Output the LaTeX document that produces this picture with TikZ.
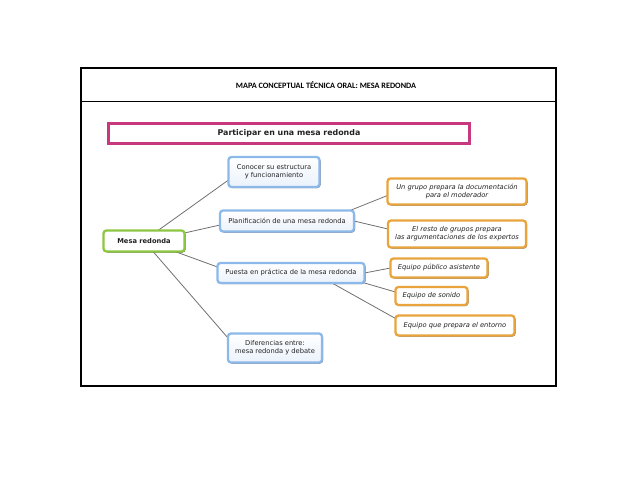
\documentclass[tikz,border=0pt]{standalone}
\usepackage{fontspec}
\setmainfont{DejaVu Sans}
\newfontfamily\headfont{Carlito}
\usetikzlibrary{shadows,backgrounds}
\definecolor{bluebd}{HTML}{8CB8EA}
\definecolor{orangebd}{HTML}{E9A43C}
\definecolor{greenbd}{HTML}{8DC641}
\definecolor{pinkbd}{HTML}{C8387E}
\definecolor{linegray}{HTML}{707070}
\definecolor{txt}{HTML}{222222}
\tikzset{
  every node/.style={inner sep=0pt, outer sep=0pt, text=txt},
  boxbase/.style={rounded corners=3pt, line width=2.3pt, fill=white, align=center,
    font=\fontsize{6.7}{8}\selectfont,
    drop shadow={shadow xshift=1pt, shadow yshift=-1pt, fill=black!75, opacity=0.85}},
  bluebox/.style={boxbase, draw=bluebd, top color=white, bottom color=bluebd!18},
  orangebox/.style={boxbase, draw=orangebd, font=\fontsize{6.7}{8}\selectfont\itshape},
  greenbox/.style={boxbase, draw=greenbd, font=\fontsize{6.7}{8}\selectfont\bfseries},
  link/.style={draw=linegray, line width=0.8pt},
}
\begin{document}
\begin{tikzpicture}[x=1pt,y=-1pt]
\useasboundingbox (0,0) rectangle (638,493);
% table frame
\draw[line width=1.3pt] (81,68) rectangle (556,386);
\draw[line width=1pt] (81,101) -- (556,101);
\node[font=\headfont\bfseries\fontsize{8.2}{10}\selectfont, text=black] (head) at (326,85) {MAPA CONCEPTUAL TÉCNICA ORAL: MESA REDONDA};
% title box
\node[draw=pinkbd, line width=2.6pt, fill=white, minimum width=361pt, minimum height=20pt,
      font=\fontsize{7.9}{9}\selectfont\bfseries,
      drop shadow={shadow xshift=0.6pt, shadow yshift=-0.6pt, fill=black!40, opacity=0.5}] (title) at (289,133.5) {Participar en una mesa redonda};
% nodes
\node[greenbox, minimum width=81pt, minimum height=21pt] (mesa) at (144,241) {Mesa redonda};
\node[bluebox, minimum width=91pt, minimum height=30pt] (conocer) at (274,172) {Conocer su estructura\\y funcionamiento};
\node[bluebox, minimum width=134pt, minimum height=21pt] (plan) at (287,221) {Planificación de una mesa redonda};
\node[bluebox, minimum width=147pt, minimum height=20pt] (puesta) at (291,273) {Puesta en práctica de la mesa redonda};
\node[bluebox, minimum width=94pt, minimum height=29pt] (dif) at (275,348) {Diferencias entre:\\mesa redonda y debate};
\node[orangebox, minimum width=139pt, minimum height=26pt] (grupo) at (457,191.5) {Un grupo prepara la documentación\\para el moderador};
\node[orangebox, minimum width=138pt, minimum height=27pt] (resto) at (457,234) {El resto de grupos prepara\\las argumentaciones de los expertos};
\node[orangebox, minimum width=97pt, minimum height=19pt] (publico) at (439,268) {Equipo público asistente};
\node[orangebox, minimum width=72pt, minimum height=18pt] (sonido) at (431.5,296) {Equipo de sonido};
\node[orangebox, minimum width=119pt, minimum height=20pt] (entorno) at (455,325.5) {Equipo que prepara el entorno};
% connectors
\begin{pgfonlayer}{background}
\draw[link] ([xshift=14pt]mesa.north) -- ([yshift=-8pt]conocer.west);
\draw[link] ([yshift=8pt]mesa.east) -- ([yshift=-4pt]plan.west);
\draw[link] ([xshift=31pt]mesa.south) -- ([yshift=6pt]puesta.west);
\draw[link] ([xshift=9pt]mesa.south) -- ([yshift=10pt]dif.west);
\draw[link] ([xshift=-4pt]plan.north east) -- ([yshift=-4pt]grupo.west);
\draw[link] (plan.east) -- ([yshift=5pt]resto.west);
\draw[link] (puesta.east) -- (publico.west);
\draw[link] (puesta.south east) -- ([yshift=4pt]sonido.west);
\draw[link] ([xshift=41pt]puesta.south) -- ([yshift=7pt]entorno.west);
\end{pgfonlayer}
\end{tikzpicture}
\end{document}
